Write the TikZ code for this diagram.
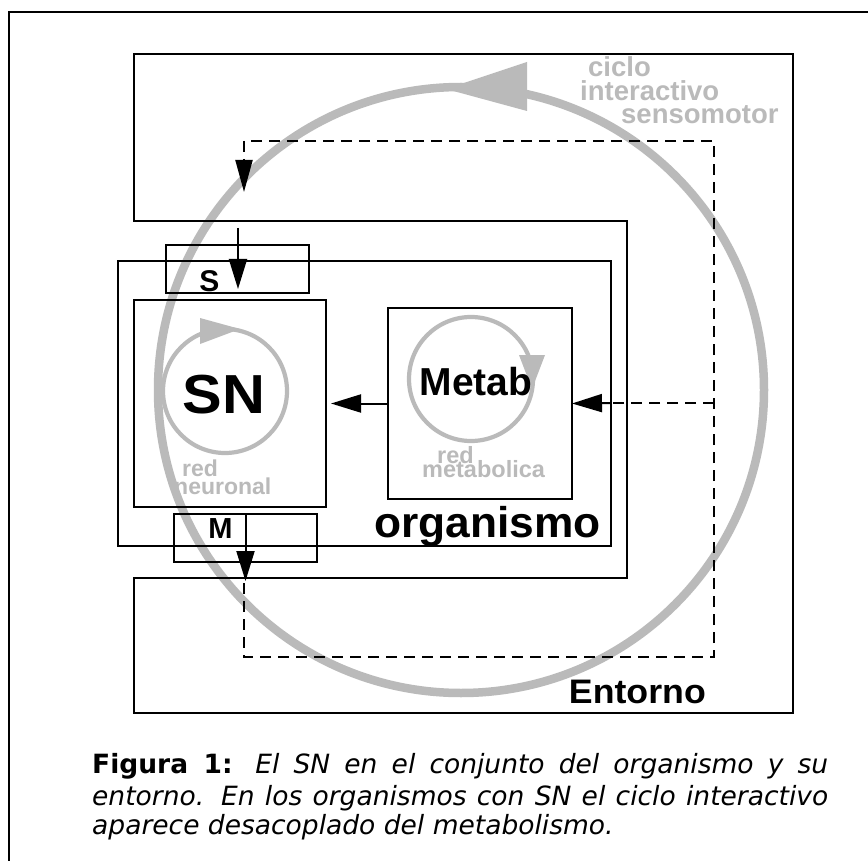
\documentclass[tikz,border=0pt]{standalone}
\usepackage{fontspec}
\setmainfont{Liberation Sans}
\newfontfamily\capfont{DejaVu Sans}
\usetikzlibrary{arrows.meta}
\definecolor{lg}{RGB}{186,186,186}
\begin{document}
\begin{tikzpicture}[x=1pt,y=-1pt,
  box/.style={draw, line width=2.7pt, inner sep=0pt, outer sep=0pt},
  thinbox/.style={draw, line width=1.6pt, inner sep=0pt, outer sep=0pt},
  arr/.style={line width=2pt, -{Triangle[length=30pt,width=18pt]}},
  dsh/.style={line width=2.4pt, dash pattern=on 11pt off 7pt},
  glabel/.style={text=lg, font=\bfseries, inner sep=0pt},
  blabel/.style={font=\bfseries, inner sep=0pt}]
\useasboundingbox (0,0) rectangle (868,861);
\fill[white] (0,0) rectangle (868,861);
% outer frame (only top and left visible)
\draw[line width=1.5pt] (9,861) -- (9,12) -- (868,12);
% big grey cycle
\draw[lg, line width=8.5pt] (461,390) circle[radius=303];
\fill[lg] (446,89) -- (527,62) -- (527,111) -- cycle;
% Entorno
\draw[line width=2.7pt] (134,221) -- (627,221) -- (627,578) -- (134,578) -- (134,713) -- (793,713) -- (793,54) -- (134,54) -- cycle;
% organism and inner boxes
\node[box, minimum width=493pt, minimum height=285pt] (org) at (364.5,403.5) {};
\node[box, minimum width=192pt, minimum height=207pt] (sn) at (230,403.5) {};
\node[box, minimum width=184pt, minimum height=191pt] (metab) at (480,403.5) {};
\node[thinbox, minimum width=143pt, minimum height=48pt] (sbox) at (237.5,269) {};
\node[thinbox, minimum width=143pt, minimum height=48pt] (mbox) at (245.5,538) {};
% small grey loops
\draw[lg, line width=4.2pt] (225,391) circle[radius=62];
\fill[lg] (240,329) -- (200,318) -- (200,344) -- cycle;
\draw[lg, line width=4.2pt] (471,379) circle[radius=62];
\fill[lg] (519,355) -- (545,355) -- (532,389) -- cycle;
% labels
\node[blabel, anchor=base, font=\bfseries\fontsize{55}{55}\selectfont] (snl) at (224,413) {\scalebox{1.08}[1]{SN}};
\node[glabel, anchor=base west, font=\bfseries\fontsize{23}{23}\selectfont] (red1) at (182,476) {red};
\node[glabel, anchor=base west, font=\bfseries\fontsize{23}{23}\selectfont] (neu) at (174,494) {neuronal};
\node[blabel, anchor=base, font=\bfseries\fontsize{39}{39}\selectfont] (metl) at (476,395) {Metab};
\node[glabel, anchor=base west, font=\bfseries\fontsize{23.5}{23.5}\selectfont] (red2) at (437,463) {red};
\node[glabel, anchor=base west, font=\bfseries\fontsize{23.5}{23.5}\selectfont] (metb) at (422,477) {metabolica};
\node[blabel, anchor=base east, font=\bfseries\fontsize{43}{43}\selectfont] (orgl) at (601,537) {\scalebox{1.03}[1]{organismo}};
\node[blabel, anchor=base east, font=\bfseries\fontsize{34}{34}\selectfont] (entl) at (706,703) {\scalebox{1.05}[1]{Entorno}};
\node[blabel, anchor=base, font=\bfseries\fontsize{30}{30}\selectfont] (sl) at (209.5,291) {S};
\node[blabel, anchor=base, font=\bfseries\fontsize{29}{29}\selectfont] (ml) at (220.5,538) {M};
\node[glabel, anchor=base west, font=\bfseries\fontsize{27.5}{27.5}\selectfont] (c1) at (588,77) {ciclo};
\node[glabel, anchor=base west, font=\bfseries\fontsize{27.5}{27.5}\selectfont] (c2) at (580,101) {interactivo};
\node[glabel, anchor=base west, font=\bfseries\fontsize{27.5}{27.5}\selectfont] (c3) at (621,124) {sensomotor};
% connectors
\coordinate (sIn) at (238,228);
\coordinate (sTip) at (238,289);
\draw[arr] (sIn) -- (sTip);
\coordinate (mTip) at (245.5,581);
\draw[arr] (mbox.north) -- (mTip);
\draw[arr] (metab.west) -- ([xshift=5pt]sn.east);
\coordinate (dR) at (714,403);
\coordinate (dTR) at (714,141);
\coordinate (dTL) at (244,141);
\coordinate (dTip) at (244,192);
\coordinate (dMid) at (244,160);
\coordinate (dBL) at (244,657);
\coordinate (dBR) at (714,657);
\coordinate (dStart) at (244,583);
\draw[dsh] (dStart) -- (dBL) -- (dBR) -- (dTR) -- (dTL) -- (dMid);
\draw[line width=2pt, -{Triangle[length=32pt,width=17pt]}] (dMid) -- (dTip);
\coordinate (dArr) at (610,403);
\draw[dsh] (dR) -- (dArr);
\draw[line width=2pt, -{Triangle[length=30pt,width=18pt]}] (dArr) -- (metab.east);
% caption
\node[anchor=base west, inner sep=0pt, font=\capfont\fontsize{26.5}{30}\selectfont] (cap1) at (92,773) {\hbox to 736pt{{\bfseries Figura 1:} \itshape El SN en el conjunto del organismo y su}};
\node[anchor=base west, inner sep=0pt, font=\capfont\fontsize{26.5}{30}\selectfont] (cap2) at (92,805) {\hbox to 736pt{\itshape entorno. En los organismos con SN el ciclo interactivo}};
\node[anchor=base west, inner sep=0pt, font=\capfont\fontsize{26.5}{30}\selectfont] (cap3) at (92,834) {\itshape aparece desacoplado del metabolismo.};
\end{tikzpicture}
\end{document}
